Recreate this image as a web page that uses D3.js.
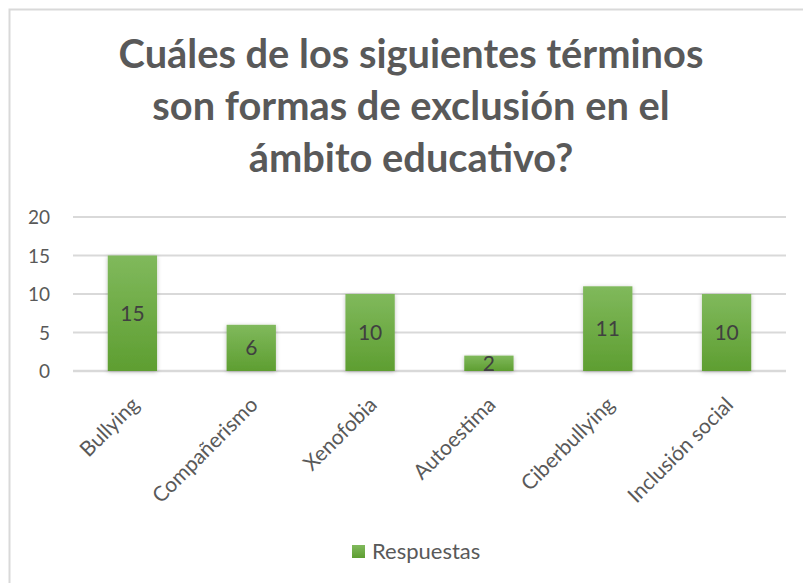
<!DOCTYPE html>
<html><head><meta charset="utf-8">
<script src="https://cdn.jsdelivr.net/npm/d3@7"></script>
<style>body{margin:0;background:#fff}svg{display:block}</style>
</head><body>
<script>
const categories = ["Bullying","Compañerismo","Xenofobia","Autoestima","Ciberbullying","Inclusión social"];
const values = [15,6,10,2,11,10];
const yTicks = [0,5,10,15,20];
const titleLines = ["Cuáles de los siguientes términos","son formas de exclusión en el","ámbito educativo?"];
const seriesName = "Respuestas";

const W=803,H=583;
const font="Lato, 'Open Sans', sans-serif";
const svg=d3.select("body").append("svg").attr("width",W).attr("height",H);
const defs=svg.append("defs");
const g1=defs.append("linearGradient").attr("id","bg").attr("x1",0).attr("y1",0).attr("x2",0).attr("y2",1);
g1.append("stop").attr("offset","0%").attr("stop-color","#80b95c");
g1.append("stop").attr("offset","100%").attr("stop-color","#5e9e31");
const f=defs.append("filter").attr("id","sh").attr("x","-20%").attr("y","-10%").attr("width","140%").attr("height","130%");
f.append("feDropShadow").attr("dx",0).attr("dy",1).attr("stdDeviation",2).attr("flood-color","#000").attr("flood-opacity",0.25);

svg.append("rect").attr("x",9.5).attr("y",9.5).attr("width",W).attr("height",H).attr("fill","none").attr("stroke","#d9d9d9").attr("stroke-width",2);

const title=svg.append("g");
const tl=title.selectAll("text").data(titleLines).join("text")
 .attr("x",411).attr("y",(d,i)=>68+i*52).attr("text-anchor","middle")
 .attr("font-family",font).attr("font-weight","bold").attr("font-size",36).attr("fill","#595959").text(d=>d);
const w0=tl.node().getComputedTextLength();
tl.attr("font-size",36*585/w0);

const x=d3.scaleBand().domain(categories).range([73,786]).paddingInner(0.585).paddingOuter(0.2925);
const y=d3.scaleLinear().domain([0,20]).range([371,217]);

svg.append("g").selectAll("line").data(yTicks).join("line")
 .attr("x1",73).attr("x2",786).attr("y1",d=>y(d)).attr("y2",d=>y(d))
 .attr("stroke","#d9d9d9").attr("stroke-width",d=>d===0?2.5:2);

const yAxis=svg.append("g").attr("transform","translate(50,0)").call(d3.axisLeft(y).tickValues(yTicks).tickSize(0).tickPadding(0));
yAxis.select(".domain").remove();
yAxis.selectAll("text").attr("font-family",font).attr("font-size",19).attr("fill","#595959").attr("dy","0.35em");

svg.append("g").selectAll("rect").data(values).join("rect")
 .attr("x",(d,i)=>x(categories[i])).attr("width",x.bandwidth())
 .attr("y",d=>y(d)).attr("height",d=>y(0)-y(d))
 .attr("fill","url(#bg)").attr("filter","url(#sh)");

svg.append("g").selectAll("text").data(values).join("text")
 .attr("x",(d,i)=>x(categories[i])+x.bandwidth()/2)
 .attr("y",d=>(y(d)+y(0))/2).attr("dy","0.36em").attr("text-anchor","middle")
 .attr("font-family",font).attr("font-size",21).attr("fill","#404040").text(d=>d);

const xAxis=svg.append("g").attr("transform","translate(0,371)").call(d3.axisBottom(x).tickSize(0).tickPadding(0));
xAxis.select(".domain").remove();
xAxis.selectAll("text").attr("font-family",font).attr("font-size",21).attr("fill","#595959")
 .attr("text-anchor","end").attr("dy",0).attr("y",0)
 .attr("transform","translate(8,35) rotate(-45)");

const lg=svg.append("g");
lg.append("rect").attr("x",352).attr("y",545).attr("width",13).attr("height",13).attr("fill","url(#bg)");
lg.append("text").attr("x",372).attr("y",559).attr("font-family",font).attr("font-size",22).attr("fill","#595959").text(seriesName);
</script>
</body></html>
